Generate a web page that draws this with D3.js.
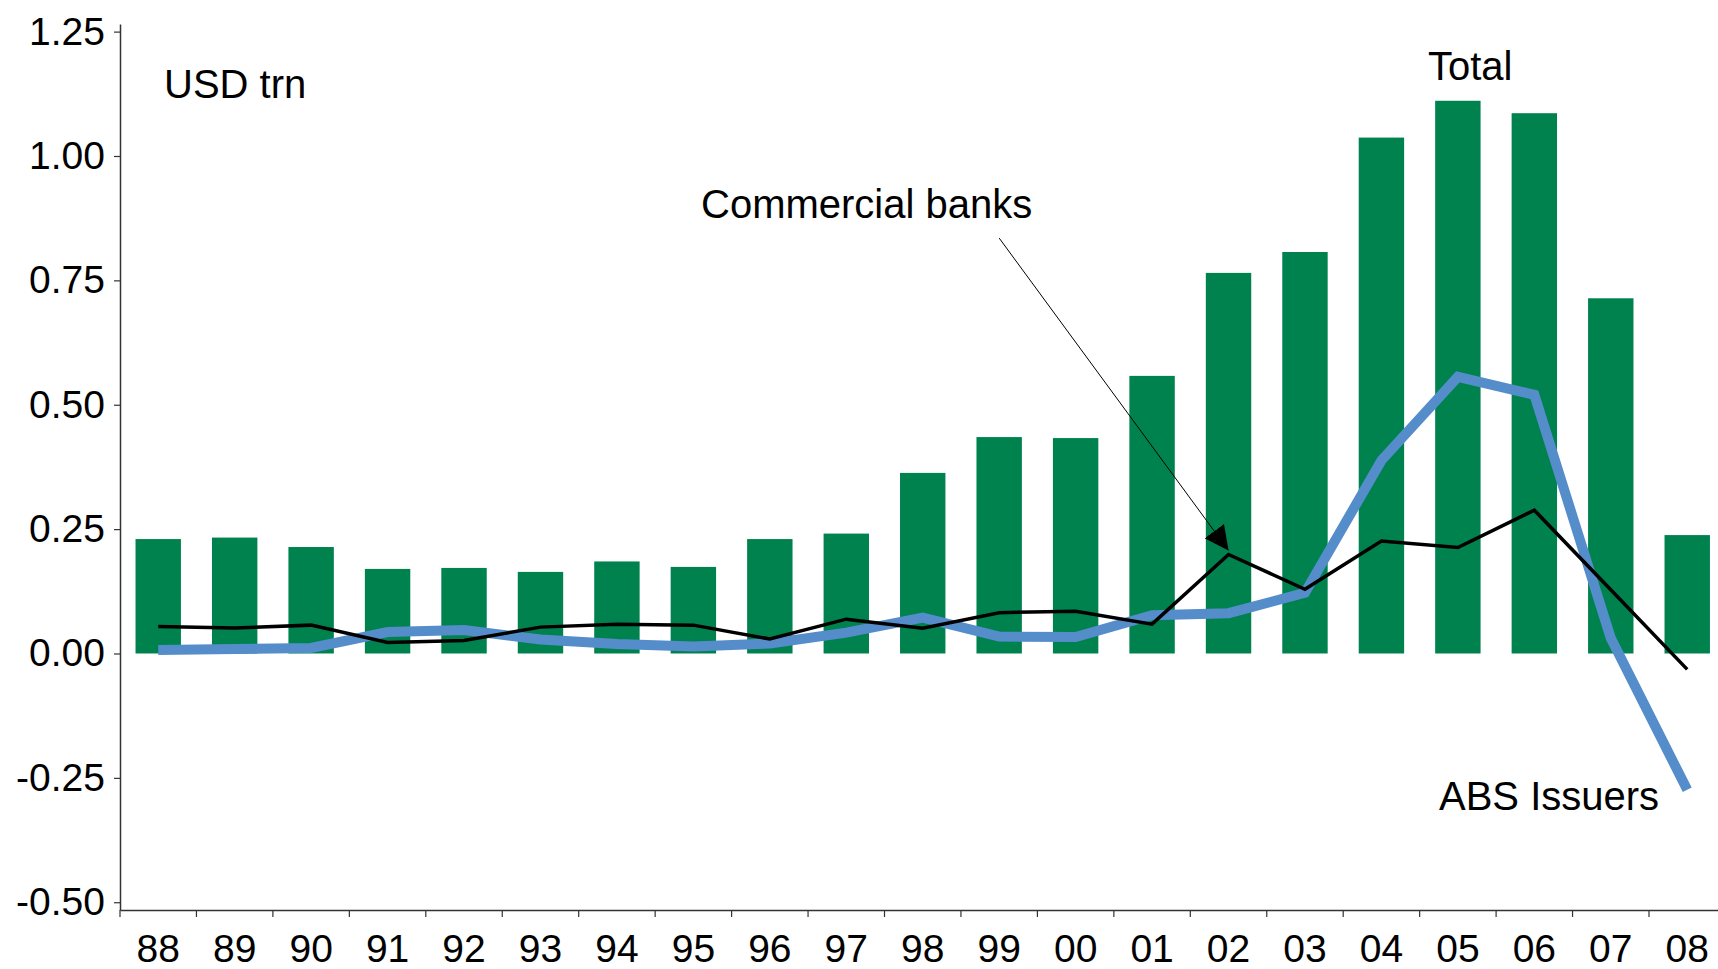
<!DOCTYPE html>
<html>
<head>
<meta charset="utf-8">
<script src="https://cdn.jsdelivr.net/npm/d3@7"></script>
<style>
  html, body { margin: 0; padding: 0; background: #fff; }
  svg { display: block; font-family: "Liberation Sans", Arial, sans-serif; }
</style>
</head>
<body>
<svg id="chart" width="1718" height="969"></svg>
<script>
const years = ["88","89","90","91","92","93","94","95","96","97","98","99","00","01","02","03","04","05","06","07","08"];
const totalValues = [0.230,0.233,0.214,0.170,0.172,0.164,0.185,0.174,0.230,0.241,0.363,0.435,0.433,0.558,0.765,0.807,1.037,1.111,1.086,0.714,0.238];
const bankValues = [0.054,0.051,0.057,0.022,0.026,0.053,0.059,0.057,0.029,0.069,0.051,0.082,0.085,0.059,0.199,0.129,0.226,0.213,0.288,0.128,-0.032];
const absValues = [0.007,0.009,0.011,0.043,0.047,0.028,0.019,0.014,0.020,0.042,0.072,0.034,0.033,0.077,0.081,0.122,0.388,0.556,0.520,0.031,-0.274];
const yTicks = [-0.50,-0.25,0.00,0.25,0.50,0.75,1.00,1.25];

const svg = d3.select("#chart");
const plotLeft = 120, plotBottom = 910, plotTop = 24;
const step = 76.45;

const x = d3.scaleBand().domain(years)
  .range([plotLeft, plotLeft + step * years.length])
  .paddingInner(0.406).paddingOuter(0.203);
const xc = d => x(d) + x.bandwidth() / 2;
const y = d3.scaleLinear().domain([-0.5156, 1.2653]).range([plotBottom, plotTop]);

const GREEN = "#00824f", BLUE = "#548dca";
const FONT = "Liberation Sans, Arial, sans-serif";

// bars
svg.append("g").selectAll("rect").data(years).join("rect")
  .attr("x", d => x(d))
  .attr("width", x.bandwidth())
  .attr("y", (d, i) => y(Math.max(0, totalValues[i])))
  .attr("height", (d, i) => Math.abs(y(totalValues[i]) - y(0)))
  .attr("fill", GREEN);

// lines
const line = d3.line().x(d => xc(d[0])).y(d => y(d[1]));
svg.append("path")
  .datum(years.map((d, i) => [d, absValues[i]]))
  .attr("d", line).attr("fill", "none")
  .attr("stroke", BLUE).attr("stroke-width", 10)
  .attr("stroke-linejoin", "miter").attr("stroke-linecap", "butt");
svg.append("path")
  .datum(years.map((d, i) => [d, bankValues[i]]))
  .attr("d", line).attr("fill", "none")
  .attr("stroke", "#000").attr("stroke-width", 3.5)
  .attr("stroke-linejoin", "miter");

// y axis
const fmt = d3.format(".2f");
const yAxis = d3.axisLeft(y).tickValues(yTicks)
  .tickFormat(d => fmt(d).replace("\u2212", "-"))
  .tickSize(6).tickSizeOuter(0).tickPadding(9);
const gy = svg.append("g").attr("transform", `translate(${plotLeft},0)`).call(yAxis);
gy.select(".domain").attr("stroke", "#333").attr("stroke-width", 1.5);
gy.selectAll(".tick line").attr("stroke", "#333").attr("stroke-width", 1.2);
gy.selectAll("text").attr("font-size", 39).attr("fill", "#000").attr("font-family", FONT);

// x axis
const xAxis = d3.axisBottom(x).tickSize(0).tickSizeOuter(0).tickPadding(24);
const gx = svg.append("g").attr("transform", `translate(0,${plotBottom})`).call(xAxis);
gx.select(".domain").attr("stroke", "#333").attr("stroke-width", 1.5);
gx.selectAll("text").attr("font-size", 39).attr("fill", "#000").attr("font-family", FONT);
// boundary ticks
gx.append("g").selectAll("line").data(d3.range(years.length)).join("line")
  .attr("x1", i => plotLeft + x.step() * i).attr("x2", i => plotLeft + x.step() * i)
  .attr("y1", 0).attr("y2", 7)
  .attr("stroke", "#333").attr("stroke-width", 1.2);

// annotations
const ann = svg.append("g").attr("font-size", 40).attr("fill", "#000").attr("font-family", FONT);
ann.append("text").attr("x", 164).attr("y", 98).text("USD trn");
ann.append("text").attr("x", 1428).attr("y", 80).text("Total");
ann.append("text").attr("x", 701).attr("y", 218).text("Commercial banks");
ann.append("text").attr("x", 1439).attr("y", 810).text("ABS Issuers");

// arrow for commercial banks
svg.append("defs").append("marker")
  .attr("id", "arrow").attr("viewBox", "0 0 10 10")
  .attr("refX", 10).attr("refY", 5)
  .attr("markerWidth", 24).attr("markerHeight", 24)
  .attr("markerUnits", "userSpaceOnUse").attr("orient", "auto")
  .append("path").attr("d", "M0,0 L10,5 L0,10 z").attr("fill", "#000");
const tipIdx = years.indexOf("02");
svg.append("line")
  .attr("x1", xc("99")).attr("y1", y(0.835))
  .attr("x2", xc("02")).attr("y2", y(bankValues[tipIdx]) - 4)
  .attr("stroke", "#000").attr("stroke-width", 1)
  .attr("marker-end", "url(#arrow)");
</script>
</body>
</html>
